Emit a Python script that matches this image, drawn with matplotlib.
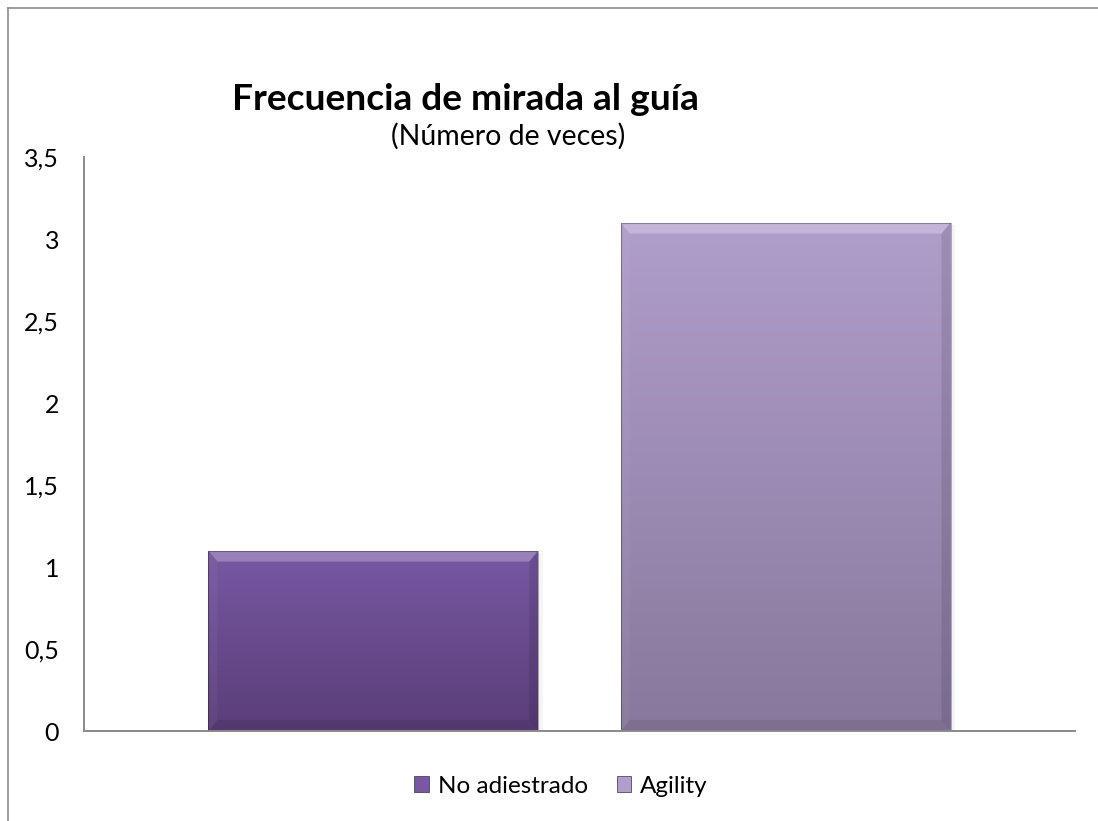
import matplotlib.pyplot as plt
from matplotlib.patches import Rectangle, Polygon
from matplotlib.lines import Line2D
from matplotlib.colors import LinearSegmentedColormap
import numpy as np

plt.rcParams["font.family"] = ["Lato", "DejaVu Sans"]

# data
series = ["No adiestrado", "Agility"]
values = [1.1, 3.1]
top_colors = ["#7858a3", "#b09ecb"]
bottom_colors = ["#5a3d78", "#88789c"]
yticks = [0, 0.5, 1, 1.5, 2, 2.5, 3, 3.5]
ytick_labels = ["0", "0,5", "1", "1,5", "2", "2,5", "3", "3,5"]

W, H = 1098, 821
fig = plt.figure(figsize=(W/100, H/100), dpi=100)
fig.patch.set_facecolor("white")

# chart frame (only top and left edges are visible in the crop)
fig.add_artist(Line2D([8/W, 1], [1-8/H, 1-8/H], transform=fig.transFigure, color="#8c8c8c", lw=1.2))
fig.add_artist(Line2D([8/W, 8/W], [0, 1-8/H], transform=fig.transFigure, color="#8c8c8c", lw=1.2))

ax = fig.add_axes([84/W, 1-731/H, (1075-84)/W, (731-157)/H])

bars = ax.bar(range(len(values)), values, width=0.8, color="none", zorder=2)
ax.set_xlim(-0.702, 1.702)
ax.set_ylim(0, 3.5)

fig.canvas.draw()
def px_to_data(dx, dy):
    inv = ax.transData.inverted()
    (x0, y0), (x1, y1) = inv.transform([(0, 0), (dx, dy)])
    return x1 - x0, y1 - y0

bx, by = px_to_data(9, 11)
sx, sy = px_to_data(4, 4)

for b, ct, cb in zip(bars, top_colors, bottom_colors):
    x0, w, h = b.get_x(), b.get_width(), b.get_height()
    # soft shadow
    ax.add_patch(Rectangle((x0 + sx*0.5, 0), w + sx*0.7, h - sy*0.5, facecolor="#000000",
                           alpha=0.04, edgecolor="none", zorder=1.5))
    cmap = LinearSegmentedColormap.from_list("g", [cb, ct])
    grad = np.linspace(0, 1, 256).reshape(-1, 1)
    im = ax.imshow(grad, cmap=cmap, extent=[x0, x0 + w, 0, h], origin="lower",
                   aspect="auto", zorder=2)
    im.set_clip_path(Rectangle((x0, 0), w, h, transform=ax.transData))
    # bevel: top light, right/bottom dark
    top = Polygon([(x0, h), (x0 + w, h), (x0 + w - bx, h - by), (x0 + bx, h - by)],
                  facecolor="white", alpha=0.25, edgecolor="none", zorder=3)
    right = Polygon([(x0 + w, h), (x0 + w, 0), (x0 + w - bx, by), (x0 + w - bx, h - by)],
                    facecolor="black", alpha=0.10, edgecolor="none", zorder=3)
    bottom = Polygon([(x0, 0), (x0 + w, 0), (x0 + w - bx, by), (x0 + bx, by)],
                     facecolor="black", alpha=0.07, edgecolor="none", zorder=3)
    left = Polygon([(x0, 0), (x0, h), (x0 + bx, h - by), (x0 + bx, by)],
                   facecolor="white", alpha=0.04, edgecolor="none", zorder=3)
    for p in (top, right, bottom, left):
        ax.add_patch(p)
    ax.add_patch(Rectangle((x0, 0), w, h, fill=False, edgecolor="#000000", alpha=0.3,
                           linewidth=0.8, zorder=3.5))

for side in ["top", "right"]:
    ax.spines[side].set_visible(False)
for side in ["left", "bottom"]:
    ax.spines[side].set_color("#8a8a8a")
    ax.spines[side].set_linewidth(1.4)
    ax.spines[side].set_zorder(4)
ax.set_xticks([])
ax.set_yticks(yticks)
ax.set_yticklabels(ytick_labels, fontsize=18)
ax.tick_params(axis="y", length=0, pad=18)

fig.text(465/W, 1-99/H, "Frecuencia de mirada al guía", fontsize=26.7, fontweight="bold",
         ha="center", va="center")
fig.text(508/W, 1-136/H, "(Número de veces)", fontsize=20.5, ha="center", va="center")

handles = [Rectangle((0, 0), 1, 1, facecolor=c, edgecolor="#3a2a50", linewidth=0.5)
           for c in top_colors]
fig.legend(handles, series, loc="center", bbox_to_anchor=(561/W, 1-786/H), ncol=2,
           frameon=False, fontsize=17.5, handlelength=0.6, handleheight=0.6,
           handletextpad=0.35, columnspacing=1.2)

fig.savefig("out.png", dpi=100)
